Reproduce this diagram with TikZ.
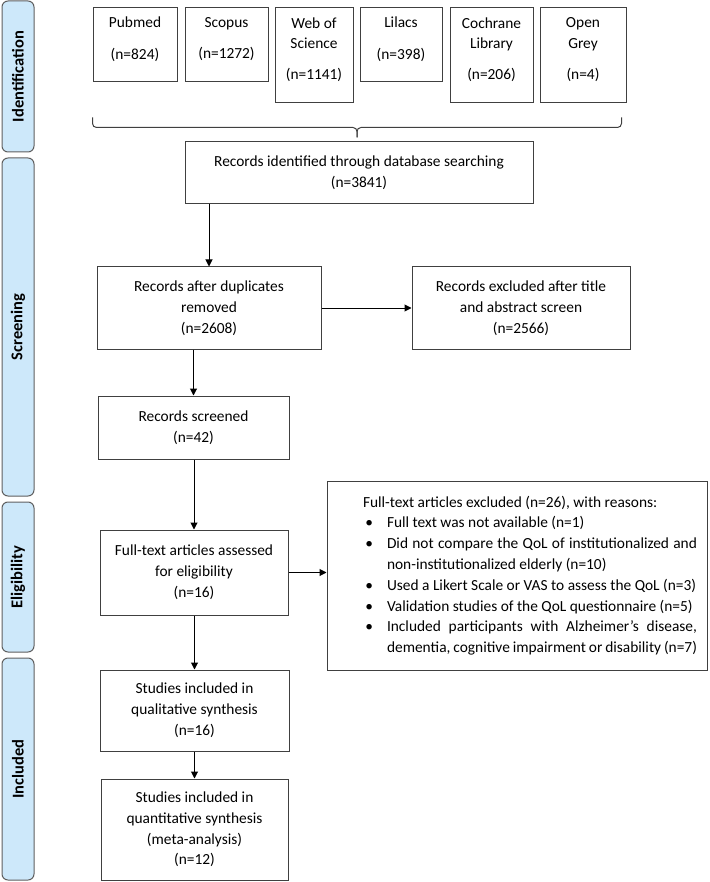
\documentclass[tikz,border=0pt]{standalone}
\usepackage{fontspec}
\setmainfont{Carlito}
\usepackage{tikz}
\usetikzlibrary{arrows.meta}
\usetikzlibrary{calc}

\definecolor{boxline}{RGB}{64,64,64}
\definecolor{phasefill}{RGB}{205,232,250}
\definecolor{phaseline}{RGB}{95,95,95}

\tikzset{
    flowbox/.style={draw=boxline, line width=1pt, align=center, inner sep=0pt,
        font=\fontsize{15.4}{20.8}\selectfont},
    dbbox/.style={flowbox, minimum width=#1, text depth=14pt},
    phase/.style={draw=phaseline, fill=phasefill, rounded corners=6pt, line width=1pt,
        minimum height=32pt, rotate=90, font=\fontsize{16.5}{20}\selectfont\bfseries},
    flowarrow/.style={-{Triangle[length=7pt,width=7pt]}, line width=1pt},
    braceline/.style={draw=boxline, line width=1pt, rounded corners=4pt},
}

\begin{document}
\begin{tikzpicture}[x=1pt, y=-1pt]

            \useasboundingbox (0,0) rectangle (709,882);

            %phases
            \foreach \nm/\yc/\len in {Identification/76.5/151, Screening/327/338, Eligibility/577/150, Included/769/222}{
                \node[phase, minimum width=\len pt] (p\nm) at (18,\yc) {\nm};
            };

            %databases
            \node[dbbox=84pt, minimum height=74pt] (pubmed) at (135,45) {Pubmed\\[11pt](n=824)};
            \node[dbbox=83pt, minimum height=74pt] (scopus) at (226.5,45) {Scopus\\[11pt](n=1272)};
            \node[dbbox=78pt, minimum height=95pt] (wos) at (314,55.5) {Web of\\Science\\[10pt](n=1141)};
            \node[dbbox=82pt, minimum height=74pt] (lilacs) at (401,45) {Lilacs\\[11pt](n=398)};
            \node[dbbox=83pt, minimum height=95pt] (cochrane) at (491.5,55.5) {Cochrane\\Library\\[10pt](n=206)};
            \node[dbbox=86pt, minimum height=95pt] (grey) at (583,55.5) {Open\\Grey\\[10pt](n=4)};

            %brace
            \coordinate (braceleft) at ([yshift=-35pt]pubmed.south west);
            \coordinate (braceright) at ([xshift=-5pt, yshift=-14pt]grey.south east);
            \coordinate (bracetip) at ($(braceleft)!0.5!(braceright)+(0,20)$);
            \draw[braceline] (braceleft) -- ++(0,10) -| (bracetip);
            \draw[braceline] (braceright) -- ++(0,10) -| (bracetip);

            %screening
            \node[flowbox, minimum width=348pt, minimum height=62pt] (ident) at (359,173) {Records identified through database searching\\(n=3841)};
            \node[flowbox, minimum width=224pt, minimum height=82pt] (dup) at (209,308) {Records after duplicates\\removed\\(n=2608)};
            \node[flowbox, minimum width=218pt, minimum height=82pt] (excl) at (521,308) {Records excluded after title\\and abstract screen\\(n=2566)};
            \node[flowbox, minimum width=191pt, minimum height=63pt] (screened) at (193.5,427.5) {Records screened\\(n=42)};

            %eligibility
            \node[flowbox, minimum width=188pt, minimum height=85pt] (full) at (194,572.5) {Full-text articles assessed\\for eligibility\\(n=16)};
            \node[flowbox, align=justify, text width=360pt, inner xsep=10pt, minimum height=189pt] (reasons) at (517,575.5) {%
                \hyphenpenalty=10000\tolerance=10000
                {\leftskip=26pt Full-text articles excluded (n=26), with reasons:\par}
                \begin{list}{\textbullet}{\setlength{\leftmargin}{50pt}\setlength{\labelwidth}{22pt}\setlength{\labelsep}{14pt}%
                    \setlength{\itemsep}{0pt}\setlength{\parsep}{0pt}\setlength{\topsep}{0pt}\setlength{\partopsep}{0pt}}
                \item Full text was not available (n=1)
                \item Did not compare the QoL of institutionalized and\linebreak non-institutionalized elderly (n=10)
                \item Used a Likert Scale or VAS to assess the QoL (n=3)
                \item Validation studies of the QoL questionnaire (n=5)
                \item Included participants with Alzheimer's disease,\linebreak dementia, cognitive impairment or disability (n=7)
                \end{list}};

            %included
            \node[flowbox, minimum width=189pt, minimum height=81pt] (qual) at (194.5,710.5) {Studies included in\\qualitative synthesis\\(n=16)};
            \node[flowbox, minimum width=187pt, minimum height=101pt] (quant) at (194.5,829.5) {Studies included in\\quantitative synthesis\\(meta-analysis)\\(n=12)};

            %connections
            \draw[flowarrow] (dup.north |- ident.south) -- (dup.north);
            \draw[flowarrow] (dup.east) -- (excl.west);
            \draw[flowarrow] (screened.north |- dup.south) -- (screened.north);
            \draw[flowarrow] (full.north |- screened.south) -- (full.north);
            \draw[flowarrow] (full.east) -- (full.east -| reasons.west);
            \draw[flowarrow] (qual.north |- full.south) -- (qual.north);
            \draw[flowarrow] (quant.north |- qual.south) -- (quant.north);

        \end{tikzpicture}
\end{document}
